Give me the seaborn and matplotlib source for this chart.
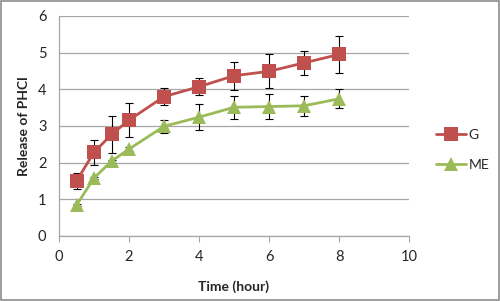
import pandas as pd
import seaborn as sns
import matplotlib.pyplot as plt

# Values
time_h = [0.5, 1, 1.5, 2, 3, 4, 5, 6, 7, 8]
g_release = [1.50, 2.28, 2.77, 3.16, 3.80, 4.07, 4.37, 4.49, 4.72, 4.95]
g_err = [0.22, 0.34, 0.50, 0.46, 0.23, 0.23, 0.38, 0.46, 0.33, 0.50]
me_release = [0.84, 1.58, 2.04, 2.37, 2.99, 3.24, 3.51, 3.53, 3.55, 3.74]
me_err = [0.03, 0.03, 0.04, 0.05, 0.18, 0.36, 0.32, 0.33, 0.28, 0.26]
series_names = ['G', 'ME']

df = pd.DataFrame({
    'Time': time_h * 2,
    'Release': g_release + me_release,
    'Err': g_err + me_err,
    'Series': [series_names[0]] * len(time_h) + [series_names[1]] * len(time_h),
})

sns.set_style('white')
plt.rcParams['font.family'] = ['Lato', 'DejaVu Sans']

colors = {'G': '#C0504D', 'ME': '#9BBB59'}

fig = plt.figure(figsize=(5, 3.01), dpi=100)
ax = fig.add_axes([0.118, 0.216, 0.7, 0.731])

# Error bars behind the markers
for name in series_names:
    sub = df[df['Series'] == name]
    ax.errorbar(sub['Time'], sub['Release'], yerr=sub['Err'], fmt='none',
                ecolor='black', elinewidth=0.8, capsize=3, capthick=0.8, zorder=2)

sns.lineplot(data=df, x='Time', y='Release', hue='Series', style='Series',
             markers={'G': 's', 'ME': '^'}, dashes=False, palette=colors,
             linewidth=2, markersize=9.5, markeredgewidth=0, ax=ax, zorder=3)

ax.set_xlim(0, 10)
ax.set_ylim(0, 6)
ax.set_xticks([0, 2, 4, 6, 8, 10])
ax.set_yticks([0, 1, 2, 3, 4, 5, 6])
ax.yaxis.grid(True, color='#A6A6A6', linewidth=0.9)
ax.set_axisbelow(True)
for side in ['top', 'right']:
    ax.spines[side].set_visible(False)
for side in ['left', 'bottom']:
    ax.spines[side].set_color('#A6A6A6')
    ax.spines[side].set_linewidth(0.9)
ax.tick_params(axis='x', direction='out', length=4, color='#A6A6A6',
               labelsize=10.5, pad=6, bottom=True)
ax.tick_params(axis='y', length=0, labelsize=10.5, pad=9)

ax.set_xlabel('Time (hour)', fontsize=10, fontweight='bold', labelpad=12)
ax.set_ylabel('Release of PHCl', fontsize=10, fontweight='bold', labelpad=6)

ax.legend(loc='center left', bbox_to_anchor=(1.04, 0.39), frameon=False,
          fontsize=10, handlelength=2.2, handletextpad=0.2, labelspacing=1.3,
          title=None)

# Chart border
fig.patches.append(plt.Rectangle((0.002, 0.003), 0.995, 0.994, transform=fig.transFigure,
                                 fill=False, edgecolor='#8C8C8C', linewidth=1.2))

fig.savefig('out.png', dpi=100)
